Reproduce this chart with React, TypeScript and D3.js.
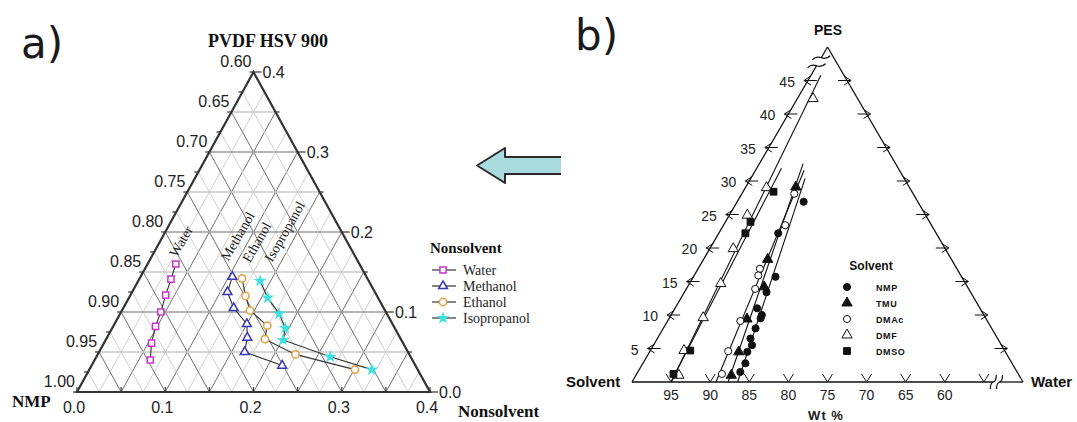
import React, { useEffect, useRef } from "react";
import * as d3 from "d3";

// ---- a) PVDF HSV 900 / NMP / nonsolvent, points are [nonsolvent, PVDF] mass fraction
const waterCloud = [[0.032, 0.160], [0.036, 0.141], [0.040, 0.121], [0.045, 0.100], [0.048, 0.082], [0.054, 0.061], [0.063, 0.040]];
const methanolCloud = [[0.104, 0.144], [0.108, 0.125], [0.125, 0.105], [0.150, 0.085], [0.159, 0.068], [0.165, 0.050], [0.216, 0.033]];
const ethanolCloud = [[0.116, 0.142], [0.131, 0.120], [0.145, 0.102], [0.174, 0.083], [0.180, 0.066], [0.224, 0.047], [0.301, 0.028]];
const isopropanolCloud = [[0.138, 0.139], [0.157, 0.118], [0.180, 0.098], [0.196, 0.080], [0.201, 0.065], [0.265, 0.044], [0.320, 0.028]];
const nonsolventNames = ["Water", "Methanol", "Ethanol", "Isopropanol"];
const nmpTicks = ["0.60", "0.65", "0.70", "0.75", "0.80", "0.85", "0.90", "0.95", "1.00"];
const pvdfTicks = ["0.0", "0.1", "0.2", "0.3", "0.4"];
const nonsolventTicks = ["0.0", "0.1", "0.2", "0.3", "0.4"];

// ---- b) PES / solvent / water, points are [water, PES] wt %
const nmpPts = [[8.5, 26.9], [7.6, 22.2], [10.5, 15.7], [10.5, 13.4], [10.5, 11.0], [11.6, 10.0], [11.7, 9.5], [11.8, 8.0], [11.9, 6.5], [12.6, 5.5], [12.5, 4.5], [13.1, 2.8], [13.1, 1.5]];
const tmuPts = [[6.4, 29.1], [8.2, 18.3], [9.8, 14.2], [10.0, 9.4], [11.4, 4.5], [12.2, 1.0]];
const dmacPts = [[6.7, 28.1], [7.9, 23.4], [7.9, 16.9], [8.2, 15.9], [8.8, 13.9], [9.3, 9.1], [10.0, 4.6], [10.9, 1.2]];
const dmfPts = [[2.0, 42.3], [2.7, 29.0], [2.3, 24.9], [3.0, 19.9], [4.0, 14.7], [4.3, 9.6], [4.3, 4.7], [5.5, 1.0]];
const dmsoPts = [[3.9, 28.4], [3.2, 23.9], [3.4, 22.2], [5.1, 4.7], [4.7, 1.2]];
const solventNames = ["NMP", "TMU", "DMAc", "DMF", "DMSO"];
const pesTicks = ["5", "10", "15", "20", "25", "30", "35", "40", "45"];
const solventTicks = ["95", "90", "85", "80", "75", "70", "65", "60"];

const SERIF = "'Liberation Serif', 'Times New Roman', serif";
const SANS = "'Liberation Sans', Arial, sans-serif";

function seg(g, a, b, color, w = 1) {
    g.append("line")
        .attr("x1", a[0]).attr("y1", a[1])
        .attr("x2", b[0]).attr("y2", b[1])
        .attr("stroke", color).attr("stroke-width", w);
}

function drawA(svg) {
    const x = d3.scaleLinear().domain([0, 0.4]).range([77, 430]);
    const y = d3.scaleLinear().domain([0, 0.4]).range([392, 72]);
    const pt = (ns, p) => [x(ns + p / 2), y(p)];
    const g = svg.append("g");

    // grid
    d3.range(1, 16).forEach(k => {
        const c = k * 0.025;
        const col = k % 2 === 0 ? "#6f6f6f" : "#cfcfcf";
        seg(g, pt(c, 0), pt(c, 0.4 - c), col, 1);
        seg(g, pt(c, 0), pt(0, c), col, 1);
    });
    d3.range(1, 8).forEach(k => {
        const p = k * 0.05;
        seg(g, pt(0, p), pt(0.4 - p, p), k % 2 === 0 ? "#9c9c9c" : "#c8c8c8", 1.4);
    });

    g.append("path")
        .attr("d", d3.line()([pt(0, 0), pt(0.4, 0), pt(0, 0.4)]) + "Z")
        .attr("fill", "none").attr("stroke", "#333").attr("stroke-width", 2.2);

    // ticks
    d3.range(0, 17).forEach(k => {
        const e = pt(0, k * 0.025);
        seg(g, e, [e[0] - 4, e[1]], "#333", 1.2);
    });
    d3.range(0, 9).forEach(k => {
        const p = k * 0.05;
        const e = pt(0.4 - p, p);
        seg(g, e, [e[0] + (k % 2 === 0 ? 8 : 4), e[1]], "#333", 1.2);
        const b = pt(k * 0.05, 0);
        seg(g, b, [b[0], b[1] - 5], "#333", 1.2);
    });

    const lab = { "font-family": SANS, "font-size": 16, fill: "#222" };
    const txt = (t, xx, yy, anchor, extra = {}) => {
        const s = g.append("text").attr("x", xx).attr("y", yy).attr("text-anchor", anchor).text(t);
        Object.entries({ ...lab, ...extra }).forEach(([k, v]) => s.attr(k, v));
        return s;
    };
    nmpTicks.forEach(t => {
        const e = pt(0, 1 - +t);
        txt(t, e[0] - 2, e[1] - 5, "end");
    });
    pvdfTicks.forEach(t => {
        const e = pt(0.4 - +t, +t);
        txt(t, e[0] + 9, e[1] + 6, "start");
    });
    nonsolventTicks.forEach(t => {
        const e = pt(+t, 0);
        txt(t, e[0] - 3, 413, "middle");
    });

    txt("PVDF HSV 900", 268, 47, "middle", { "font-family": SERIF, "font-size": 18, "font-weight": "bold", fill: "#111" });
    txt("NMP", 12, 407, "start", { "font-family": SERIF, "font-size": 17, "font-weight": "bold", fill: "#111" });
    txt("Nonsolvent", 458, 417, "start", { "font-family": SERIF, "font-size": 17, "font-weight": "bold", fill: "#111" });

    const series = [
        { data: waterCloud, color: "#cc33cc", sym: d3.symbolSquare, size: 38, fill: "#fff" },
        { data: methanolCloud, color: "#3838b0", sym: d3.symbolTriangle, size: 34, fill: "#fff" },
        { data: ethanolCloud, color: "#e0a040", sym: d3.symbolCircle, size: 42, fill: "#fff" },
        { data: isopropanolCloud, color: "#3fe0e0", sym: d3.symbolStar, size: 22, fill: "#3fe0e0" },
    ];
    const lineGen = d3.line().x(d => pt(d[0], d[1])[0]).y(d => pt(d[0], d[1])[1]);
    series.forEach(s => {
        g.append("path").attr("d", lineGen(s.data)).attr("fill", "none")
            .attr("stroke", "#333").attr("stroke-width", 1.1);
    });
    series.forEach(s => {
        g.selectAll(null).data(s.data).enter().append("path")
            .attr("d", d3.symbol().type(s.sym).size(s.size))
            .attr("transform", d => `translate(${pt(d[0], d[1])})`)
            .attr("fill", s.fill).attr("stroke", s.color).attr("stroke-width", 1.5);
    });

    // rotated series names above the first point of each curve
    const nameOffsets = [[1, -6], [-4, -15], [8, -15], [12, -18]];
    series.forEach((s, i) => {
        const p0 = pt(s.data[0][0], s.data[0][1]);
        const xx = p0[0] + nameOffsets[i][0], yy = p0[1] + nameOffsets[i][1];
        g.append("text").attr("transform", `translate(${xx},${yy}) rotate(-60)`)
            .attr("font-family", SERIF).attr("font-size", 14).attr("fill", "#222")
            .text(nonsolventNames[i]);
    });

    // legend
    const lg = g.append("g").attr("transform", "translate(430,0)");
    lg.append("text").attr("x", 0).attr("y", 253).attr("font-family", SERIF).attr("font-size", 15)
        .attr("font-weight", "bold").attr("fill", "#111").text("Nonsolvent");
    series.forEach((s, i) => {
        const yy = 270 + i * 16;
        seg(lg, [2, yy], [26, yy], "#333", 1.2);
        lg.append("path").attr("d", d3.symbol().type(s.sym).size(s.size)())
            .attr("transform", `translate(13,${yy})`)
            .attr("fill", s.fill).attr("stroke", s.color).attr("stroke-width", 1.5);
        lg.append("text").attr("x", 33).attr("y", yy + 5).attr("font-family", SERIF)
            .attr("font-size", 14).attr("fill", "#222").text(nonsolventNames[i]);
    });
}

function fit(data) {
    const mp = d3.mean(data, d => d[1]), mw = d3.mean(data, d => d[0]);
    const b = d3.sum(data, d => (d[1] - mp) * (d[0] - mw)) / d3.sum(data, d => (d[1] - mp) ** 2);
    return p => mw + b * (p - mp);
}

function drawB(svg) {
    const x = d3.scaleLinear().domain([0, 50]).range([632, 1023]);
    const y = d3.scaleLinear().domain([0, 50]).range([382, 47]);
    const pt = (w, p) => [x(w + p / 2), y(p)];
    const g = svg.append("g");
    const K = "#111";

    // edges with breaks
    seg(g, pt(0, 0), pt(0, 47.2), K, 1.3);
    seg(g, pt(0, 48.4), pt(0, 50), K, 1.3);
    seg(g, pt(0, 50), pt(50, 0), K, 1.3);
    seg(g, pt(0, 0), pt(46.2, 0), K, 1.3);
    seg(g, pt(47.0, 0), pt(50, 0), K, 1.3);
    [47.2, 48.4].forEach(p => {
        const e = pt(0, p);
        g.append("path").attr("d", `M${e[0] - 9},${e[1] + 2} q4,-4 9,-2 t9,-2`)
            .attr("fill", "none").attr("stroke", K).attr("stroke-width", 1.3);
    });
    [46.2, 47.0].forEach(w => {
        const e = pt(w, 0);
        g.append("path").attr("d", `M${e[0] - 3},${e[1] + 7} q0,-6 3,-7 t3,-7`)
            .attr("fill", "none").attr("stroke", K).attr("stroke-width", 1.2);
    });

    // arrow-like ticks
    d3.range(5, 50, 5).forEach(p => {
        const l = pt(0, p);
        g.append("path").attr("d", `M${l[0] + 3},${l[1] - 4.5} L${l[0] - 4},${l[1]} L${l[0] + 3},${l[1] + 4.5} M${l[0] - 4},${l[1]} L${l[0] + 9},${l[1]}`)
            .attr("fill", "none").attr("stroke", K).attr("stroke-width", 1);
        const r = pt(50 - p, p);
        g.append("path").attr("d", `M${r[0] - 3},${r[1] - 4.5} L${r[0] + 4},${r[1]} L${r[0] - 3},${r[1] + 4.5} M${r[0] + 4},${r[1]} L${r[0] - 9},${r[1]}`)
            .attr("fill", "none").attr("stroke", K).attr("stroke-width", 1);
    });
    d3.range(5, 50, 5).forEach(w => {
        const b = pt(w, 0);
        g.append("path").attr("d", `M${b[0] - 5},${b[1] - 8} L${b[0]},${b[1]} L${b[0] + 5},${b[1] - 8}`)
            .attr("fill", "none").attr("stroke", K).attr("stroke-width", 1);
    });

    pesTicks.forEach(t => {
        const e = pt(0, +t);
        g.append("text").attr("x", e[0] - 13).attr("y", e[1] + 6).attr("text-anchor", "end")
            .attr("font-family", SANS).attr("font-size", 14).attr("fill", "#222").text(t);
    });
    solventTicks.forEach(t => {
        const e = pt(100 - +t, 0);
        g.append("text").attr("x", e[0]).attr("y", 400).attr("text-anchor", "middle")
            .attr("font-family", SANS).attr("font-size", 14).attr("fill", "#222").text(t);
    });
    g.append("text").attr("x", 826).attr("y", 420).attr("text-anchor", "middle").attr("font-family", SANS)
        .attr("font-size", 13).attr("font-weight", "bold").attr("fill", "#222").attr("letter-spacing", 1).text("Wt %");
    g.append("text").attr("x", 828).attr("y", 35).attr("text-anchor", "middle").attr("font-family", SANS)
        .attr("font-size", 14).attr("font-weight", "bold").attr("fill", "#111").text("PES");
    g.append("text").attr("x", 566).attr("y", 387).attr("font-family", SANS)
        .attr("font-size", 15).attr("font-weight", "bold").attr("fill", "#111").text("Solvent");
    g.append("text").attr("x", 1031).attr("y", 387).attr("font-family", SANS)
        .attr("font-size", 15).attr("font-weight", "bold").attr("fill", "#111").text("Water");

    const series = [
        { data: nmpPts, sym: d3.symbolCircle, size: 40, fill: K },
        { data: tmuPts, sym: d3.symbolTriangle, size: 46, fill: K },
        { data: dmacPts, sym: d3.symbolCircle, size: 40, fill: "#fff" },
        { data: dmfPts, sym: d3.symbolTriangle, size: 46, fill: "#fff" },
        { data: dmsoPts, sym: d3.symbolSquare, size: 46, fill: K },
    ];
    series.forEach(s => {
        const f = fit(s.data);
        const lo = 0, hi = d3.max(s.data, d => d[1]) + 3.5;
        seg(g, pt(f(lo), lo), pt(f(hi), hi), K, 1.1);
    });
    series.forEach(s => {
        g.selectAll(null).data(s.data).enter().append("path")
            .attr("d", d3.symbol().type(s.sym).size(s.size))
            .attr("transform", d => `translate(${pt(d[0], d[1])})`)
            .attr("fill", s.fill).attr("stroke", K).attr("stroke-width", 1);
    });

    // legend
    g.append("text").attr("x", 871).attr("y", 270).attr("text-anchor", "middle").attr("font-family", SANS)
        .attr("font-size", 12).attr("font-weight", "bold").attr("fill", "#111").text("Solvent");
    series.forEach((s, i) => {
        const yy = 287 + i * 16;
        g.append("path").attr("d", d3.symbol().type(s.sym).size(s.size)())
            .attr("transform", `translate(847,${yy})`)
            .attr("fill", s.fill).attr("stroke", K).attr("stroke-width", 1);
        g.append("text").attr("x", 876).attr("y", yy + 3.5).attr("font-family", SANS)
            .attr("font-size", 9).attr("font-weight", "bold").attr("letter-spacing", 0.6)
            .attr("fill", "#111").text(solventNames[i]);
    });
}

function drawDecor(svg) {
    svg.append("path")
        .attr("d", "M561,157 L505,157 L505,148 L477,165.5 L505,183 L505,174 L561,174 Z")
        .attr("fill", "#a9dbde").attr("stroke", "none");
    svg.append("path")
        .attr("d", "M561,157 L505,157 L505,148 L477,165.5 L505,183 L505,174 L561,174")
        .attr("fill", "none").attr("stroke", "#2a2a2a").attr("stroke-width", 2).attr("stroke-linejoin", "round");
    svg.append("text").attr("x", 21).attr("y", 58).attr("font-family", "'DejaVu Sans', sans-serif")
        .attr("font-size", 42).attr("fill", "#1a1a1a").text("a)");
    svg.append("text").attr("x", 575).attr("y", 50).attr("font-family", "'DejaVu Sans', sans-serif")
        .attr("font-size", 42).attr("fill", "#1a1a1a").text("b)");
}

export default function App() {
    const ref = useRef(null);
    useEffect(() => {
        const svg = d3.select(ref.current);
        svg.selectAll("*").remove();
        drawA(svg);
        drawDecor(svg);
        drawB(svg);
    }, []);
    return (
        <svg ref={ref} width={1077} height={422}
            style={{ position: "absolute", left: 0, top: 0, background: "#fff" }} />
    );
}
